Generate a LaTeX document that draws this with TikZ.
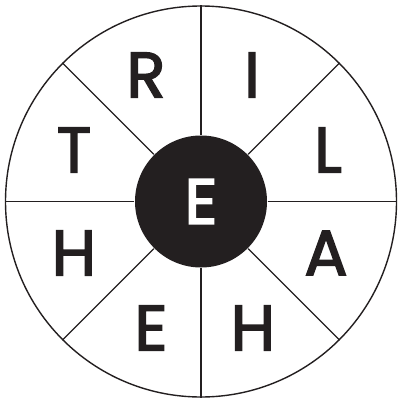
\documentclass[tikz,border=0pt]{standalone}
\usepackage{fontspec}
\newfontfamily\letrafont{Poppins}[FakeBold=2.5]
\usepackage{tikz}
\usetikzlibrary{calc}
\definecolor{TintaNegra}{RGB}{35,31,32}

\begin{document}
\begin{tikzpicture}[x=1pt, y=-1pt, line width=1.4pt, draw=TintaNegra,
    letra/.style={text=TintaNegra, font=\letrafont\fontsize{64}{64}\selectfont, inner sep=0pt}]
    \useasboundingbox (0,0) rectangle (398,401);
    \coordinate (O) at (201,201.5);

    % rueda
    \node[circle, draw, minimum size=391pt, inner sep=0pt] (rim) at (O) {};
    \node[circle, fill=TintaNegra, minimum size=132pt, inner sep=0pt,
        text=white, font=\letrafont\fontsize{64}{64}\selectfont] (hub) at (O) {E};

    \foreach \ang in {0,45,...,315}
        \draw (hub.\ang) -- (rim.\ang);

    % letras
    \node[letra] (r)  at (146,75)  {R};
    \node[letra] (i)  at (252,75)  {I};
    \node[letra] (t)  at (74,150)  {T};
    \node[letra] (l)  at (328,150) {L};
    \node[letra] (h1) at (74,253)  {H};
    \node[letra] (a)  at (326,253) {A};
    \node[letra] (e)  at (151,328) {E};
    \node[letra] (h2) at (253,328) {H};
\end{tikzpicture}
\end{document}
